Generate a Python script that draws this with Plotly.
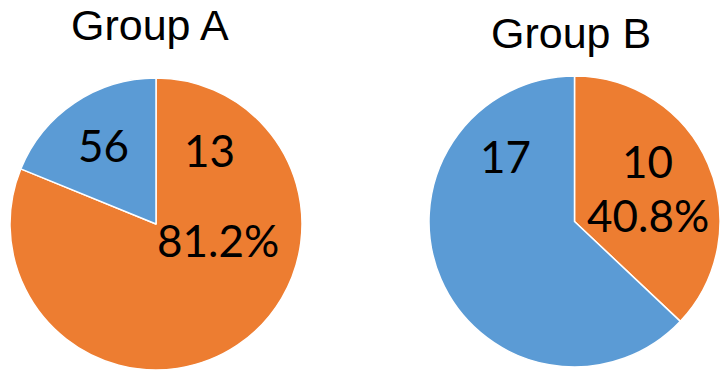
import plotly.graph_objects as go

# ---- data ----
groups = ["Group A", "Group B"]
slice_names = ["Orange slice", "Blue slice"]
values_a = [56, 13]
values_b = [10, 17]
slice_colors = ["#ED7D31", "#5B9BD5"]

# text labels printed on the pies
labels_a = ["56", "13", "81.2%"]
labels_b = ["17", "10", "40.8%"]

W, H = 720, 371


def px_x(x):
    return x / W


def px_y(y):
    return 1 - y / H


fig = go.Figure()

fig.add_trace(go.Pie(
    labels=slice_names, values=values_a, sort=False, direction="clockwise",
    rotation=0, textinfo="none", hoverinfo="label+value+percent",
    marker=dict(colors=slice_colors, line=dict(color="white", width=1.5)),
    domain=dict(x=[px_x(10), px_x(302)], y=[px_y(370), px_y(78)]),
    showlegend=False,
))
fig.add_trace(go.Pie(
    labels=slice_names, values=values_b, sort=False, direction="clockwise",
    rotation=0, textinfo="none", hoverinfo="label+value+percent",
    marker=dict(colors=slice_colors, line=dict(color="white", width=1.5)),
    domain=dict(x=[px_x(429), 1.0], y=[px_y(367), px_y(76)]),
    showlegend=False,
))

title_font = dict(family="Liberation Sans, Arial, sans-serif", size=43, color="black")
label_font = dict(family="Lato, Carlito, sans-serif", size=44, color="black")

annotations = [
    dict(text=groups[0], x=px_x(150), y=px_y(25), font=title_font),
    dict(text=groups[1], x=px_x(571), y=px_y(33), font=title_font),
    dict(text=labels_a[0], x=px_x(103), y=px_y(145), font=label_font),
    dict(text=labels_a[1], x=px_x(209), y=px_y(150), font=label_font),
    dict(text=labels_a[2], x=px_x(218), y=px_y(240), font=label_font),
    dict(text=labels_b[0], x=px_x(506), y=px_y(156), font=label_font),
    dict(text=labels_b[1], x=px_x(647), y=px_y(161), font=label_font),
    dict(text=labels_b[2], x=px_x(648), y=px_y(215), font=label_font),
]
for a in annotations:
    a.update(xref="paper", yref="paper", showarrow=False,
             xanchor="center", yanchor="middle")

fig.update_layout(
    width=W, height=H,
    margin=dict(l=0, r=0, t=0, b=0),
    paper_bgcolor="white", plot_bgcolor="white",
    annotations=annotations,
)

fig.write_html("out.html")
